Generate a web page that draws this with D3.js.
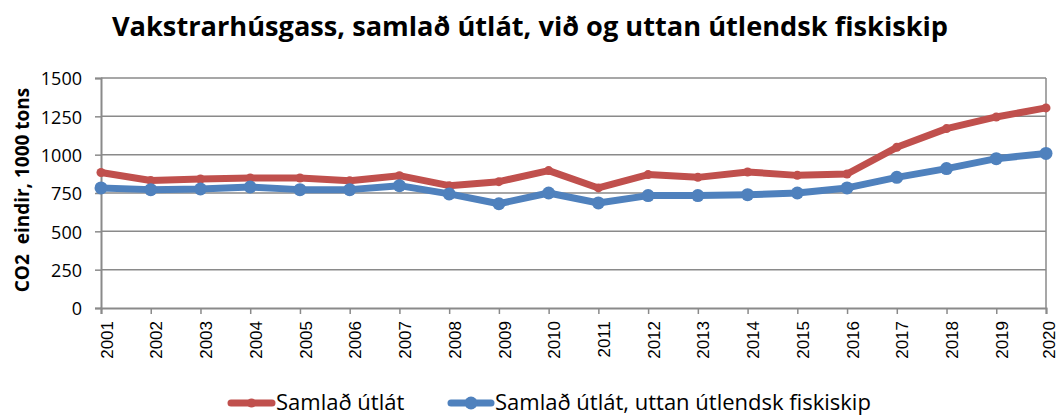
<!DOCTYPE html>
<html>
<head>
<meta charset="utf-8">
<script src="https://cdn.jsdelivr.net/npm/d3@7"></script>
<style>
  body { margin: 0; background: #fff; }
  svg { display: block; font-family: "Open Sans", "Liberation Sans", sans-serif; }
</style>
</head>
<body>
<div id="chart"></div>
<script>
// ── data
const years = ['2001','2002','2003','2004','2005','2006','2007','2008','2009','2010',
               '2011','2012','2013','2014','2015','2016','2017','2018','2019','2020'];
const totalEmissions = [884, 832, 841, 848, 848, 830, 863, 798, 824, 896,
                        783, 870, 852, 887, 865, 874, 1048, 1170, 1246, 1305];
const excludingForeign = [783, 772, 776, 789, 772, 772, 798, 744, 680, 750,
                          685, 733, 733, 739, 750, 783, 852, 909, 974, 1008];
const yTicks = [0, 250, 500, 750, 1000, 1250, 1500];
const seriesNames = ['Samlað útlát', 'Samlað útlát, uttan útlendsk fiskiskip'];

const W = 1056, H = 415;
const margin = { left: 101, right: 10, top: 78, bottom: 107 };
const width = 1046 - margin.left;
const height = 308 - margin.top;
const gridColor = '#8a8a8a';

const svg = d3.select('#chart').append('svg')
  .attr('width', W).attr('height', H);

// ── title
svg.append('text')
  .attr('x', 530).attr('y', 36)
  .attr('text-anchor', 'middle')
  .attr('font-size', 27.2).attr('font-weight', 'bold')
  .attr('fill', '#000')
  .text('Vakstrarhúsgass, samlað útlát, við og uttan útlendsk fiskiskip');

const g = svg.append('g').attr('transform', `translate(${margin.left},${margin.top})`);

const x = d3.scalePoint().domain(years).range([0, width]);
const y = d3.scaleLinear().domain([0, 1500]).range([height, 0]);

// ── gridlines
g.append('g')
  .selectAll('line').data(yTicks.filter(d => d > 0)).join('line')
  .attr('x1', 0).attr('x2', width)
  .attr('y1', d => y(d)).attr('y2', d => y(d))
  .attr('stroke', gridColor).attr('stroke-width', 1.5);

// right border
g.append('line')
  .attr('x1', width).attr('x2', width).attr('y1', 0).attr('y2', height)
  .attr('stroke', gridColor).attr('stroke-width', 1.5);

// ── Y axis
g.append('g')
  .call(d3.axisLeft(y).tickValues(yTicks).tickFormat(d3.format('d')).tickSize(6).tickPadding(13))
  .call(a => a.select('.domain').attr('stroke', gridColor).attr('stroke-width', 2))
  .call(a => a.selectAll('.tick line').attr('stroke', gridColor).attr('stroke-width', 1.5))
  .call(a => a.selectAll('.tick text')
    .attr('font-size', 18).attr('fill', '#000')
    .attr('dy', '0.38em')
    .attr('font-family', '"Open Sans", sans-serif'));

svg.append('text')
  .attr('transform', 'translate(29,190) rotate(-90)')
  .attr('text-anchor', 'middle')
  .attr('font-size', 19).attr('font-weight', 'bold')
  .style('white-space', 'pre')
  .text('CO2  eindir, 1000 tons');

// ── X axis
g.append('g')
  .attr('transform', `translate(0,${height})`)
  .call(d3.axisBottom(x).tickSize(6).tickPadding(0))
  .call(a => a.select('.domain').attr('stroke', gridColor).attr('stroke-width', 2))
  .call(a => a.selectAll('.tick line').attr('stroke', gridColor).attr('stroke-width', 1.5))
  .call(a => a.selectAll('.tick text')
    .attr('font-size', 17).attr('fill', '#000')
    .attr('font-family', '"Liberation Sans", Arial, sans-serif')
    .attr('text-anchor', 'end')
    .attr('dy', '0.3em')
    // last label nudged in so it stays inside the page
    .attr('transform', (d, i) => `translate(${i === years.length - 1 ? -3 : 0},13) rotate(-90)`));

// ── lines
const series = [
  { name: seriesNames[0], values: totalEmissions, color: '#C0504D', r: 4.5 },
  { name: seriesNames[1], values: excludingForeign, color: '#4F81BD', r: 6.5 }
];

const line = d3.line().x((d, i) => x(years[i])).y(d => y(d));

series.forEach(s => {
  g.append('path')
    .datum(s.values)
    .attr('d', line)
    .attr('fill', 'none')
    .attr('stroke', s.color)
    .attr('stroke-width', 7)
    .attr('stroke-linejoin', 'round')
    .attr('stroke-linecap', 'round');
  g.selectAll(null).data(s.values).join('circle')
    .attr('cx', (d, i) => x(years[i]))
    .attr('cy', d => y(d))
    .attr('r', s.r)
    .attr('fill', s.color);
});

// ── legend
const legendItems = [
  { x: 227, textX: 276 },
  { x: 447, textX: 495 }
];
series.forEach((s, i) => {
  const lg = svg.append('g');
  const lx = legendItems[i].x;
  lg.append('line')
    .attr('x1', lx + 4).attr('x2', legendItems[i].textX - 4)
    .attr('y1', 403).attr('y2', 403)
    .attr('stroke', s.color).attr('stroke-width', 7)
    .attr('stroke-linecap', 'round');
  lg.append('circle')
    .attr('cx', (lx + legendItems[i].textX) / 2).attr('cy', 403)
    .attr('r', s.r).attr('fill', s.color);
  lg.append('text')
    .attr('x', legendItems[i].textX).attr('y', 410)
    .attr('font-size', 22)
    .text(s.name);
});
</script>
</body>
</html>
